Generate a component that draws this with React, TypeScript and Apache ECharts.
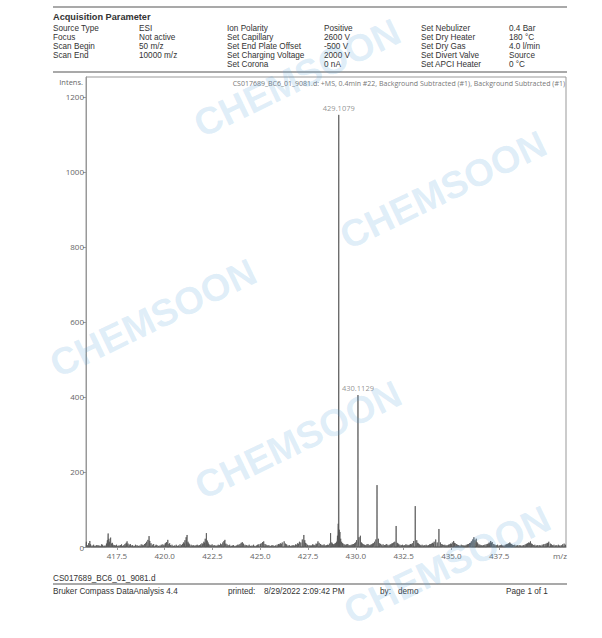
import React, { useEffect, useRef } from "react";
import * as echarts from "echarts";

// ---- axis ----
const MZ_MIN = 415.88;
const MZ_MAX = 441.0;
const INT_MAX = 1253;
const xTicks = [417.5, 420.0, 422.5, 425.0, 427.5, 430.0, 432.5, 435.0, 437.5];
const yTicks = [0, 200, 400, 600, 800, 1000, 1200];

// ---- labelled peaks ----
const labelledMz = [429.1079, 430.1129];
const labelledInt = [1152, 405];

// ---- other visible peaks ----
const majorMz = [429.08, 429.135, 431.11, 432.11, 433.11, 434.35];
const majorInt = [62, 46, 165, 56, 109, 48];

// ---- baseline noise spikes [m/z, intensity] ----
const noise: [number, number][] = [
  [415.9, 14], [415.95, 5], [416.02, 10], [416.08, 16], [416.12, 7], [416.2, 4], [416.28, 6], [416.35, 3], [416.42, 5], [416.5, 5],
  [416.56, 4], [416.62, 3], [416.69, 7], [416.75, 6], [416.82, 3], [416.88, 4], [416.95, 9], [417.0, 18], [417.04, 36], [417.08, 22], [417.12, 14],
  [417.17, 25], [417.22, 9], [417.26, 11], [417.3, 6], [417.36, 5], [417.42, 4], [417.48, 6], [417.55, 3], [417.61, 4], [417.68, 5], [417.74, 7], [417.8, 3], [417.86, 5], [417.92, 8],
  [417.98, 11], [418.03, 15], [418.08, 9], [418.14, 6], [418.2, 8], [418.25, 4], [418.32, 5], [418.4, 3], [418.47, 6], [418.55, 5], [418.62, 3], [418.7, 4], [418.77, 7],
  [418.85, 6], [418.9, 4], [418.95, 8], [419.0, 10], [419.05, 14], [419.12, 19], [419.18, 29], [419.22, 16], [419.28, 10], [419.35, 6], [419.42, 8],
  [419.5, 3], [419.55, 6], [419.6, 5], [419.67, 3], [419.75, 4], [419.82, 6], [419.9, 7], [419.96, 5], [420.02, 9], [420.06, 11], [420.1, 13], [420.16, 19], [420.22, 8],
  [420.26, 10], [420.3, 5], [420.38, 6], [420.45, 3], [420.52, 4], [420.6, 6], [420.66, 3], [420.72, 4], [420.8, 7], [420.88, 5], [420.93, 8], [420.98, 12], [421.02, 9], [421.06, 18], [421.12, 26],
  [421.17, 32], [421.22, 14], [421.26, 10], [421.3, 7], [421.38, 6], [421.45, 4], [421.52, 5], [421.58, 3], [421.64, 5], [421.7, 6], [421.76, 4], [421.82, 5], [421.88, 7], [421.95, 10],
  [422.0, 8], [422.05, 14], [422.09, 11], [422.12, 22], [422.18, 37], [422.23, 17], [422.27, 12], [422.3, 8], [422.36, 6], [422.42, 5], [422.48, 7], [422.55, 4], [422.62, 5], [422.68, 3],
  [422.74, 4], [422.8, 6], [422.86, 5], [422.92, 9], [422.98, 7], [423.04, 12], [423.1, 16], [423.15, 19], [423.2, 9], [423.26, 7], [423.32, 5], [423.4, 6], [423.48, 3],
  [423.54, 4], [423.6, 5], [423.68, 3], [423.75, 4], [423.82, 6], [423.88, 6], [423.94, 8], [424.0, 11], [424.06, 13], [424.12, 9], [424.2, 6], [424.27, 5], [424.35, 4],
  [424.42, 6], [424.5, 3], [424.57, 4], [424.65, 6], [424.72, 3], [424.8, 4], [424.86, 6], [424.92, 7], [425.0, 8], [425.05, 10], [425.12, 13], [425.18, 15], [425.25, 8],
  [425.31, 6], [425.38, 4], [425.45, 5], [425.52, 3], [425.59, 4], [425.66, 5], [425.73, 3], [425.8, 4], [425.88, 6], [425.95, 8], [426.0, 7], [426.05, 10], [426.1, 8], [426.15, 12], [426.25, 15],
  [426.32, 9], [426.38, 7], [426.45, 4], [426.52, 5], [426.6, 3], [426.66, 4], [426.72, 5], [426.78, 4], [426.85, 7], [426.9, 6], [426.96, 10], [427.0, 8], [427.05, 14], [427.12, 12],
  [427.2, 20], [427.28, 32], [427.33, 18], [427.37, 11], [427.4, 9], [427.47, 6], [427.55, 5], [427.62, 4], [427.68, 4], [427.74, 7], [427.8, 6], [427.86, 5], [427.92, 9],
  [427.97, 8], [428.02, 15], [428.08, 11], [428.15, 8], [428.22, 6], [428.28, 5], [428.34, 7], [428.4, 4], [428.46, 5], [428.52, 6], [428.57, 5], [428.62, 9], [428.68, 37],
  [428.74, 12], [428.78, 9], [428.82, 7], [428.87, 8], [428.92, 10], [428.96, 11], [429.0, 14], [429.04, 30], [429.17, 40], [429.21, 22], [429.26, 14],
  [429.3, 10], [429.33, 9], [429.39, 7], [429.45, 6], [429.52, 7], [429.58, 8], [429.64, 5], [429.7, 5], [429.76, 6], [429.82, 7], [429.88, 8], [429.94, 10], [429.99, 12], [430.04, 18], [430.17, 26],
  [430.24, 30], [430.3, 12], [430.35, 9], [430.4, 7], [430.46, 6], [430.52, 5], [430.58, 7], [430.64, 8], [430.7, 5], [430.76, 6], [430.82, 7], [430.88, 9], [430.93, 10], [430.98, 14],
  [431.05, 20], [431.18, 22], [431.25, 10], [431.3, 8], [431.36, 6], [431.43, 7], [431.5, 5], [431.56, 6], [431.62, 8], [431.68, 5], [431.75, 6], [431.82, 7], [431.88, 9],
  [431.93, 10], [431.98, 12], [432.04, 14], [432.17, 11], [432.21, 9], [432.25, 7], [432.31, 6], [432.38, 5], [432.44, 6], [432.5, 4], [432.56, 5], [432.62, 7], [432.68, 6], [432.74, 5],
  [432.8, 6], [432.86, 8], [432.91, 7], [432.96, 10], [433.03, 16], [433.19, 18], [433.24, 11], [433.28, 9], [433.34, 7], [433.4, 5], [433.47, 6], [433.55, 4], [433.61, 5], [433.68, 6],
  [433.74, 4], [433.8, 5], [433.86, 7], [433.92, 8], [433.97, 9], [434.02, 11], [434.06, 9], [434.1, 14], [434.18, 20], [434.26, 12], [434.43, 12], [434.5, 8],
  [434.55, 6], [434.6, 5], [434.66, 6], [434.72, 4], [434.78, 5], [434.85, 6], [434.9, 7], [434.96, 9], [435.0, 8], [435.05, 12], [435.12, 16], [435.16, 11], [435.2, 10], [435.26, 8], [435.32, 6],
  [435.38, 5], [435.45, 4], [435.52, 6], [435.6, 5], [435.66, 4], [435.72, 4], [435.78, 6], [435.85, 7], [435.9, 8], [435.95, 10], [436.0, 11], [436.05, 15], [436.12, 20], [436.18, 26],
  [436.24, 18], [436.3, 22], [436.34, 13], [436.38, 10], [436.44, 7], [436.5, 6], [436.56, 5], [436.62, 4], [436.68, 5], [436.75, 6], [436.82, 7], [436.88, 8], [436.93, 9], [436.98, 12],
  [437.02, 10], [437.06, 16], [437.1, 11], [437.14, 13], [437.22, 8], [437.28, 6], [437.35, 5], [437.42, 6], [437.5, 4], [437.56, 5], [437.62, 6], [437.68, 4], [437.75, 4], [437.82, 6], [437.88, 7],
  [437.93, 8], [437.98, 9], [438.02, 10], [438.06, 12], [438.1, 9], [438.14, 8], [438.2, 6], [438.25, 5], [438.32, 6], [438.4, 4], [438.47, 5], [438.55, 5], [438.62, 4], [438.7, 4], [438.77, 5], [438.85, 6],
  [438.91, 8], [438.96, 9], [439.0, 10], [439.05, 12], [439.1, 11], [439.14, 15], [439.2, 9], [439.25, 7], [439.3, 5], [439.37, 6], [439.45, 4], [439.52, 5], [439.6, 5], [439.67, 4], [439.75, 6],
  [439.82, 7], [439.9, 8], [439.96, 9], [440.02, 11], [440.06, 10], [440.1, 14], [440.18, 9], [440.24, 7], [440.3, 5], [440.37, 6], [440.45, 4], [440.52, 5], [440.6, 6], [440.67, 4], [440.75, 5],
  [440.82, 7], [440.9, 9], [440.97, 6],
];

// ---- page texts ----
const spectrumTitle =
  "CS017689_BC6_01_9081.d: +MS, 0.4min #22, Background Subtracted (#1), Background Subtracted (#1)";
const paramLabels1 = ["Source Type", "Focus", "Scan Begin", "Scan End"];
const paramValues1 = ["ESI", "Not active", "50 m/z", "10000 m/z"];
const paramLabels2 = ["Ion Polarity", "Set Capillary", "Set End Plate Offset", "Set Charging Voltage", "Set Corona"];
const paramValues2 = ["Positive", "2600 V", "-500 V", "2000 V", "0 nA"];
const paramLabels3 = ["Set Nebulizer", "Set Dry Heater", "Set Dry Gas", "Set Divert Valve", "Set APCI Heater"];
const paramValues3 = ["0.4 Bar", "180 °C", "4.0 l/min", "Source", "0 °C"];
const footerFile = "CS017689_BC6_01_9081.d";
const footerItems = ["Bruker Compass DataAnalysis 4.4", "printed:", "8/29/2022 2:09:42 PM", "by:", "demo", "Page 1 of 1"];
const watermarkText = "CHEMSOON";

export default function App() {
  const ref = useRef<HTMLDivElement>(null);
  useEffect(() => {
    if (!ref.current) return;
    const chart = echarts.init(ref.current, undefined, { renderer: "svg" });

    const spikes: [number, number][] = [...noise];
    majorMz.forEach((m, i) => spikes.push([m, majorInt[i]]));
    labelledMz.forEach((m, i) => spikes.push([m, labelledInt[i]]));
    spikes.sort((a, b) => a[0] - b[0]);
    const w = 0.011;
    const profile: [number, number][] = [[MZ_MIN, 0]];
    spikes.forEach(([m, h]) => {
      profile.push([m - w, 0]);
      profile.push([m, h]);
      profile.push([m + w, 0]);
    });
    profile.push([MZ_MAX, 0]);

    const sans = "'Liberation Sans', Arial, sans-serif";
    const txtCol = "#333";
    const rowsY = [28, 37, 46, 55, 64];
    const t = (text: string, x: number, y: number, extra: any = {}) => ({
      type: "text",
      x,
      y,
      silent: true,
      style: {
        text,
        fill: txtCol,
        fontSize: 8.2,
        lineHeight: 8.4,
        fontFamily: sans,
        textAlign: "left",
        align: "left",
        textVerticalAlign: "middle",
        verticalAlign: "middle",
        ...extra,
      },
    });
    const graphics: any[] = [];
    const hline = (y: number) => ({
      type: "line",
      silent: true,
      shape: { x1: 53, y1: y, x2: 567, y2: y },
      style: { stroke: "#8c8c8c", lineWidth: 1.5 },
    });
    graphics.push(hline(7), hline(72), hline(584));
    graphics.push(t("Acquisition Parameter", 53, 16.5, { fontSize: 9.2, lineHeight: 9.4, fontWeight: "bold" }));
    paramLabels1.forEach((s, i) => graphics.push(t(s, 53, rowsY[i])));
    paramValues1.forEach((s, i) => graphics.push(t(s, 139, rowsY[i])));
    paramLabels2.forEach((s, i) => graphics.push(t(s, 227, rowsY[i])));
    paramValues2.forEach((s, i) => graphics.push(t(s, 324, rowsY[i])));
    paramLabels3.forEach((s, i) => graphics.push(t(s, 421, rowsY[i])));
    paramValues3.forEach((s, i) => graphics.push(t(s, 509, rowsY[i])));
    graphics.push(t(footerFile, 53, 578.5));
    const footerX = [53, 228, 264, 380, 398, 506];
    footerItems.forEach((s, i) => graphics.push(t(s, footerX[i], 591)));
    graphics.push(
      t("Intens.", 83, 82, { textAlign: "right", align: "right", fill: "#666", fontFamily: "'Open Sans', sans-serif", fontSize: 7.5 })
    );
    graphics.push(
      t(spectrumTitle, 565, 83, { textAlign: "right", align: "right", fill: "#777", fontFamily: "'Open Sans', sans-serif", fontSize: 7 })
    );
    graphics.push(
      t("m/z", 560, 555.5, { textAlign: "center", align: "center", fill: "#666", fontFamily: "'Open Sans', sans-serif", fontSize: 8 })
    );
    const wmPos = [
      [297, 78],
      [443, 190],
      [153, 318],
      [298, 440],
      [447, 565],
    ];
    wmPos.forEach(([x, y]) =>
      graphics.push({
        type: "text",
        x,
        y,
        rotation: 0.45,
        silent: true,
        z: 100,
        style: {
          text: watermarkText,
          fill: "rgba(90,165,222,0.2)",
          fontSize: 38,
          fontWeight: "bold",
          fontFamily: sans,
          textAlign: "center",
          align: "center",
          textVerticalAlign: "middle",
          verticalAlign: "middle",
        },
      })
    );

    const axisFont = { fontFamily: "'Open Sans', sans-serif", fontSize: 8, color: "#666" };

    chart.setOption({
      animation: false,
      backgroundColor: "#fff",
      grid: {
        left: 86,
        right: 36,
        top: 77,
        bottom: 91,
        show: true,
        borderColor: "#999",
        borderWidth: 1,
        backgroundColor: "transparent",
      },
      xAxis: {
        type: "value",
        min: MZ_MIN,
        max: MZ_MAX,
        axisLine: { show: true, lineStyle: { color: "#999", width: 1 } },
        axisTick: { show: true, length: 3, lineStyle: { color: "#999" }, customValues: xTicks },
        axisLabel: { ...axisFont, margin: 4, customValues: xTicks, formatter: (v: number) => v.toFixed(1) },
        splitLine: { show: false },
      },
      yAxis: {
        type: "value",
        min: 0,
        max: INT_MAX,
        axisLine: { show: true, lineStyle: { color: "#999", width: 1 } },
        axisTick: { show: true, length: 3, lineStyle: { color: "#999" }, customValues: yTicks },
        axisLabel: { ...axisFont, margin: 2, customValues: yTicks, formatter: (v: number) => String(v) },
        splitLine: { show: false },
      },
      graphic: graphics,
      series: [
        {
          type: "line",
          data: profile,
          symbol: "none",
          lineStyle: { color: "#555", width: 0.8 },
          clip: true,
          silent: true,
        },
        {
          type: "scatter",
          data: labelledMz.map((m, i) => [m, labelledInt[i]]),
          symbolSize: 0,
          silent: true,
          label: {
            show: true,
            position: "top",
            distance: 3,
            formatter: (p: any) => p.value[0].toFixed(4),
            fontFamily: "'Open Sans', sans-serif",
            fontSize: 7.5,
            color: "#777",
          },
        },
      ],
    });
    return () => chart.dispose();
  }, []);
  return (
    <div
      ref={ref}
      style={{ position: "absolute", left: 0, top: 0, width: 602, height: 638, background: "#fff" }}
    />
  );
}
